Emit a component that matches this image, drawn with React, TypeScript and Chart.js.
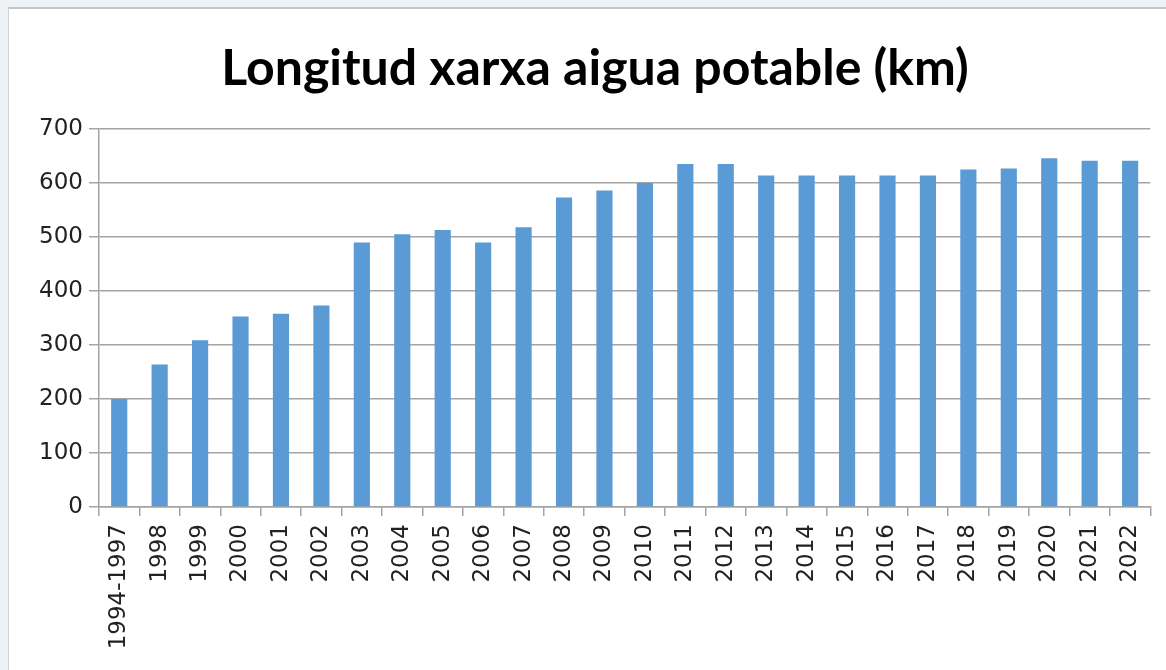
import { useEffect, useRef } from "react";
import { Chart, registerables } from "chart.js";

Chart.register(...registerables);

const chartTitle = "Longitud xarxa aigua potable (km)";

const categories = [
  "1994-1997", "1998", "1999", "2000", "2001", "2002", "2003", "2004", "2005",
  "2006", "2007", "2008", "2009", "2010", "2011", "2012", "2013", "2014",
  "2015", "2016", "2017", "2018", "2019", "2020", "2021", "2022",
];

const lengthKm = [
  200, 264, 309, 353, 358, 373, 490, 505, 513, 490, 518, 573, 586, 600, 635,
  635, 614, 614, 614, 614, 614, 625, 627, 646, 641, 641,
];

const yTicks = [0, 100, 200, 300, 400, 500, 600, 700];

const BAR_COLOR = "#5b9bd5";
const GRID_COLOR = "#a4a4a4";
const TEXT_COLOR = "#222222";
const TICK_FONT = "'DejaVu Sans', Verdana, sans-serif";
const TITLE_FONT = "'Lato', 'Liberation Sans', sans-serif";

export default function App() {
  const ref = useRef<HTMLCanvasElement>(null);

  useEffect(() => {
    document.body.style.margin = "0";
    const canvas = ref.current;
    if (!canvas) return;
    const chart = new Chart(canvas, {
      type: "bar",
      data: {
        labels: categories,
        datasets: [
          {
            data: lengthKm,
            backgroundColor: BAR_COLOR,
            borderWidth: 0,
            categoryPercentage: 1,
            barPercentage: 0.4,
          },
        ],
      },
      options: {
        animation: false,
        responsive: false,
        devicePixelRatio: 1,
        layout: { padding: { left: 39, right: 15, top: 0, bottom: 0 } },
        plugins: {
          legend: { display: false },
          tooltip: { enabled: false },
          title: {
            display: true,
            text: chartTitle,
            color: "#000000",
            font: { family: TITLE_FONT, size: 50, weight: "bold", lineHeight: 1.2 },
            padding: { top: 39, bottom: 30 },
          },
        },
        scales: {
          x: {
            offset: true,
            grid: {
              offset: true,
              drawOnChartArea: false,
              drawTicks: true,
              tickLength: 9,
              color: GRID_COLOR,
              lineWidth: 1.5,
            },
            border: { display: true, color: GRID_COLOR, width: 1.5 },
            ticks: {
              autoSkip: false,
              minRotation: 90,
              maxRotation: 90,
              padding: 8,
              color: TEXT_COLOR,
              font: { family: TICK_FONT, size: 23 },
            },
            afterFit: (s: any) => {
              s.height = 163;
            },
          },
          y: {
            min: 0,
            max: 700,
            afterBuildTicks: (s: any) => {
              s.ticks = yTicks.map((v) => ({ value: v }));
            },
            grid: {
              color: GRID_COLOR,
              lineWidth: 1.5,
              tickLength: 10,
            },
            border: { display: true, color: GRID_COLOR, width: 1.5 },
            ticks: {
              padding: 6,
              color: TEXT_COLOR,
              font: { family: TICK_FONT, size: 23 },
            },
            afterFit: (s: any) => {
              s.width = 60;
            },
          },
        },
      },
    });
    return () => chart.destroy();
  }, []);

  return (
    <div style={{ position: "fixed", left: 0, top: 0, width: 1166, height: 670, background: "#eef2f7", overflow: "hidden" }}>
      <div
        style={{
          position: "absolute",
          left: 8,
          top: 7,
          right: 0,
          bottom: 0,
          background: "#ffffff",
          borderTop: "2px solid #c4c4c4",
          borderLeft: "1px solid #d2d2d2",
        }}
      />
      <canvas
        ref={ref}
        width={1166}
        height={670}
        style={{ position: "absolute", left: 0, top: 0, width: 1166, height: 670 }}
      />
    </div>
  );
}
